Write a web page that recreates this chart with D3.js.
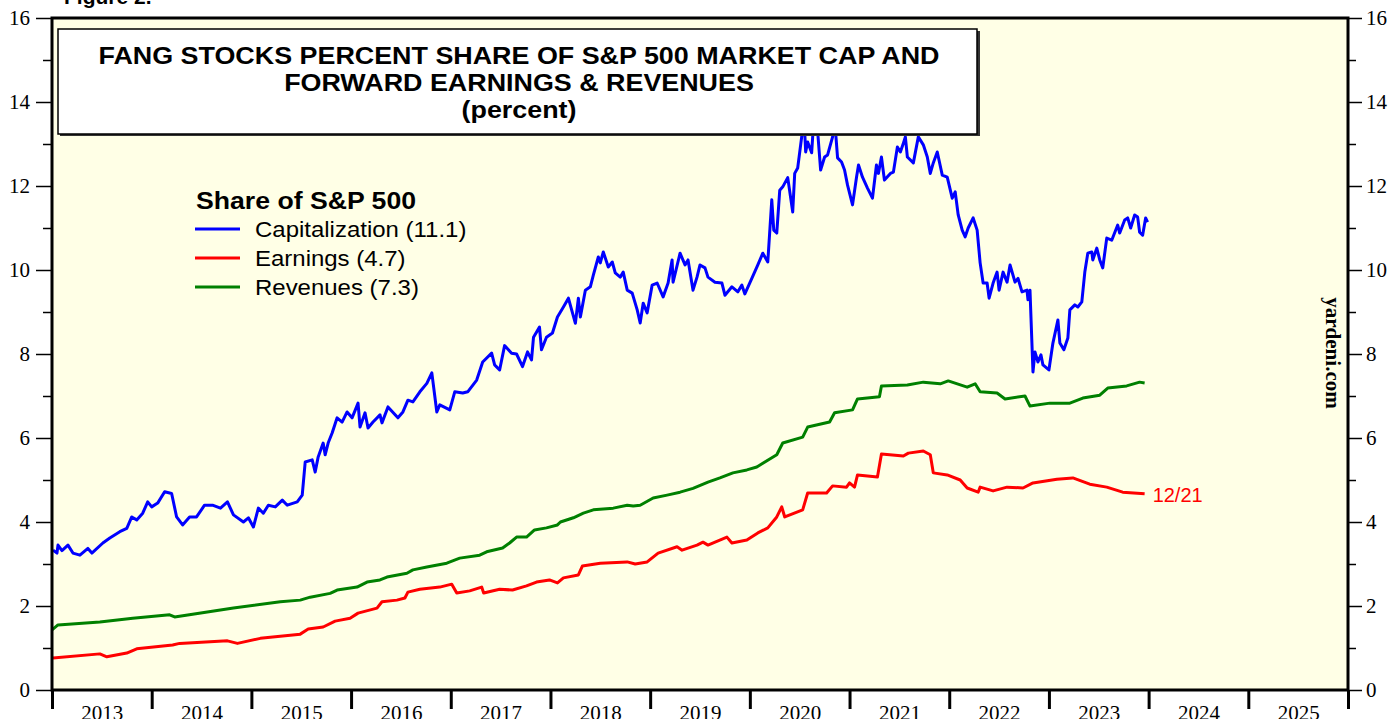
<!DOCTYPE html>
<html>
<head>
<meta charset="utf-8">
<script src="https://cdn.jsdelivr.net/npm/d3@7"></script>
<style>
  body { margin: 0; background: #fff; }
  svg { display: block; }
</style>
</head>
<body>
<div id="chart"></div>
<script>
var svgWidth = 1394;
var svgHeight = 719;

var margin = { top: 18, right: 46, bottom: 29, left: 52 };
var width = svgWidth - margin.left - margin.right;
var height = svgHeight - margin.top - margin.bottom;

// decimal year, share of S&P 500 market cap (percent)
var capYears = [2013.01, 2013.05, 2013.06, 2013.10, 2013.16, 2013.21, 2013.28, 2013.36, 2013.40, 2013.51, 2013.58, 2013.68, 2013.75, 2013.80, 2013.85, 2013.91, 2013.96,
  2014.00, 2014.06, 2014.13, 2014.20, 2014.25, 2014.31, 2014.38, 2014.45, 2014.53, 2014.61, 2014.69, 2014.76, 2014.82, 2014.92, 2014.97,
  2015.02, 2015.07, 2015.12, 2015.17, 2015.24, 2015.31, 2015.36, 2015.46, 2015.51, 2015.54, 2015.61, 2015.64, 2015.67, 2015.72, 2015.74, 2015.77, 2015.81, 2015.86, 2015.91, 2015.96,
  2016.01, 2016.07, 2016.09, 2016.14, 2016.17, 2016.22, 2016.29, 2016.31, 2016.37, 2016.47, 2016.52, 2016.57, 2016.62, 2016.69, 2016.76, 2016.81, 2016.86, 2016.89, 2016.99,
  2017.04, 2017.12, 2017.17, 2017.26, 2017.32, 2017.41, 2017.44, 2017.49, 2017.54, 2017.61, 2017.66, 2017.72, 2017.77, 2017.81, 2017.83, 2017.89, 2017.91, 2017.96,
  2018.02, 2018.07, 2018.13, 2018.18, 2018.25, 2018.28, 2018.30, 2018.35, 2018.40, 2018.43, 2018.48, 2018.50, 2018.53, 2018.58, 2018.62, 2018.65, 2018.70, 2018.73, 2018.77, 2018.82, 2018.87, 2018.90, 2018.93, 2018.97,
  2019.02, 2019.07, 2019.13, 2019.18, 2019.22, 2019.23, 2019.30, 2019.35, 2019.38, 2019.43, 2019.47, 2019.50, 2019.55, 2019.58, 2019.65, 2019.72, 2019.75, 2019.82, 2019.88, 2019.92, 2019.95,
  2020.02, 2020.08, 2020.13, 2020.18, 2020.22, 2020.24, 2020.27, 2020.30, 2020.33, 2020.38, 2020.43, 2020.45, 2020.48, 2020.52, 2020.54, 2020.56, 2020.58, 2020.62, 2020.65, 2020.68, 2020.71, 2020.75, 2020.78, 2020.83, 2020.85, 2020.88, 2020.92, 2020.95, 2020.98,
  2021.03, 2021.07, 2021.09, 2021.13, 2021.18, 2021.23, 2021.27, 2021.29, 2021.32, 2021.35, 2021.41, 2021.44, 2021.48, 2021.51, 2021.54, 2021.56, 2021.58, 2021.64, 2021.69, 2021.74, 2021.78, 2021.81, 2021.84, 2021.88, 2021.93, 2021.98,
  2022.03, 2022.06, 2022.09, 2022.13, 2022.16, 2022.19, 2022.24, 2022.28, 2022.31, 2022.34, 2022.38, 2022.40, 2022.44, 2022.48, 2022.50, 2022.54, 2022.58, 2022.61, 2022.66, 2022.69, 2022.73, 2022.78, 2022.79, 2022.81, 2022.84, 2022.86, 2022.89, 2022.92, 2022.94,
  2023.00, 2023.04, 2023.09, 2023.11, 2023.15, 2023.19, 2023.21, 2023.26, 2023.29, 2023.33, 2023.36, 2023.39, 2023.43, 2023.44, 2023.48, 2023.51, 2023.54, 2023.58, 2023.63, 2023.69, 2023.71, 2023.76, 2023.79, 2023.82, 2023.86, 2023.89, 2023.91, 2023.94, 2023.97, 2023.99];
var capValues = [3.33, 3.26, 3.45, 3.32, 3.45, 3.26, 3.21, 3.37, 3.26, 3.50, 3.62, 3.77, 3.85, 4.12, 4.05, 4.21, 4.48,
  4.36, 4.45, 4.72, 4.68, 4.12, 3.93, 4.12, 4.12, 4.40, 4.40, 4.33, 4.48, 4.17, 4.00, 4.10,
  3.88, 4.33, 4.21, 4.40, 4.36, 4.52, 4.40, 4.48, 4.64, 5.43, 5.48, 5.19, 5.55, 5.88, 5.60, 5.88, 6.12, 6.48, 6.38, 6.62,
  6.48, 6.83, 6.26, 6.60, 6.24, 6.38, 6.55, 6.36, 6.74, 6.48, 6.62, 6.90, 6.86, 7.10, 7.30, 7.55, 6.62, 6.79, 6.67,
  7.10, 7.07, 7.10, 7.38, 7.81, 8.02, 7.74, 7.62, 8.20, 8.02, 8.00, 7.70, 8.05, 7.86, 8.40, 8.64, 8.10, 8.40,
  8.50, 8.88, 9.12, 9.33, 8.73, 9.33, 8.88, 9.52, 9.60, 9.88, 10.31, 10.17, 10.43, 10.07, 10.19, 9.93, 9.83, 9.95, 9.52, 9.45, 9.05, 8.74, 9.21, 8.98,
  9.64, 9.69, 9.36, 9.69, 10.24, 9.71, 10.40, 10.12, 10.24, 9.52, 9.83, 10.12, 10.05, 9.83, 9.71, 9.69, 9.40, 9.60, 9.48, 9.64, 9.43,
  9.80, 10.12, 10.40, 10.19, 11.67, 10.95, 10.88, 11.90, 11.98, 12.20, 11.38, 12.30, 12.43, 13.17, 13.80, 12.81, 13.05, 12.79, 13.90, 13.30, 12.38, 12.69, 12.74, 13.17, 13.60, 12.67, 12.57, 12.38, 12.02,
  11.55, 12.21, 12.50, 12.21, 11.95, 11.71, 12.50, 12.30, 12.69, 12.14, 12.30, 12.33, 12.93, 12.81, 13.02, 13.17, 12.69, 12.55, 13.17, 12.98, 12.69, 12.30, 12.55, 12.81, 12.26, 12.21,
  11.71, 11.86, 11.31, 10.95, 10.79, 11.00, 11.24, 10.95, 10.17, 9.69, 9.69, 9.33, 9.69, 9.95, 9.52, 9.95, 9.71, 10.12, 9.71, 9.80, 9.48, 9.52, 9.29, 9.52, 7.57, 8.05, 7.81, 7.98, 7.74,
  7.62, 8.26, 8.81, 8.26, 8.10, 8.38, 9.05, 9.17, 9.12, 9.24, 9.95, 10.40, 10.43, 10.24, 10.52, 10.24, 10.05, 10.76, 10.71, 11.07, 10.88, 11.19, 11.24, 11.00, 11.31, 11.26, 10.90, 10.83, 11.24, 11.14];

// share of S&P 500 forward earnings (percent)
var earnYears = [2013.01, 2013.48, 2013.55, 2013.75, 2013.85, 2014.21, 2014.28, 2014.76, 2014.86, 2015.09, 2015.49, 2015.57, 2015.72, 2015.84, 2015.99,
  2016.07, 2016.26, 2016.31, 2016.46, 2016.54, 2016.57, 2016.69, 2016.89, 2017.01, 2017.06, 2017.19, 2017.31, 2017.33, 2017.49, 2017.62, 2017.76, 2017.86, 2017.99,
  2018.07, 2018.13, 2018.28, 2018.32, 2018.50, 2018.77, 2018.85, 2018.97, 2019.08, 2019.27, 2019.32, 2019.47, 2019.53, 2019.58, 2019.77, 2019.82, 2019.97,
  2020.08, 2020.18, 2020.27, 2020.32, 2020.35, 2020.53, 2020.58, 2020.77, 2020.83, 2020.97, 2021.00, 2021.05, 2021.08, 2021.28, 2021.32, 2021.54, 2021.59, 2021.74, 2021.81, 2021.84, 2021.98,
  2022.11, 2022.18, 2022.29, 2022.31, 2022.44, 2022.58, 2022.74, 2022.84, 2023.08, 2023.24, 2023.41, 2023.58, 2023.74, 2023.96];
var earnValues = [0.76, 0.86, 0.79, 0.88, 0.98, 1.07, 1.11, 1.17, 1.11, 1.23, 1.33, 1.45, 1.50, 1.64, 1.71,
  1.83, 1.95, 2.10, 2.14, 2.19, 2.33, 2.40, 2.45, 2.52, 2.31, 2.36, 2.45, 2.31, 2.40, 2.38, 2.48, 2.57, 2.62,
  2.55, 2.67, 2.74, 2.95, 3.02, 3.05, 3.00, 3.05, 3.26, 3.41, 3.33, 3.45, 3.52, 3.45, 3.64, 3.50, 3.57,
  3.74, 3.86, 4.12, 4.36, 4.12, 4.29, 4.69, 4.69, 4.86, 4.83, 4.93, 4.83, 5.12, 5.07, 5.62, 5.57, 5.64, 5.69, 5.60, 5.17, 5.12,
  5.00, 4.81, 4.71, 4.83, 4.74, 4.83, 4.81, 4.93, 5.02, 5.05, 4.90, 4.83, 4.71, 4.67];

// share of S&P 500 forward revenues (percent)
var revYears = [2013.00, 2013.06, 2013.48, 2013.81, 2014.18, 2014.23, 2014.82, 2015.29, 2015.49, 2015.59, 2015.79, 2015.86,
  2016.06, 2016.16, 2016.29, 2016.36, 2016.56, 2016.62, 2016.76, 2016.96, 2017.09, 2017.29, 2017.36, 2017.52, 2017.59, 2017.66, 2017.76, 2017.84, 2017.96,
  2018.07, 2018.10, 2018.23, 2018.33, 2018.43, 2018.63, 2018.77, 2018.83, 2018.90, 2019.03, 2019.17, 2019.30, 2019.43, 2019.58, 2019.70, 2019.83, 2019.97,
  2020.07, 2020.27, 2020.33, 2020.53, 2020.58, 2020.80, 2020.85, 2021.03, 2021.08, 2021.30, 2021.32, 2021.58, 2021.74, 2021.91, 2021.99,
  2022.18, 2022.26, 2022.31, 2022.48, 2022.56, 2022.76, 2022.81, 2023.01, 2023.21, 2023.34, 2023.51, 2023.59, 2023.78, 2023.91, 2023.96];
var revValues = [1.43, 1.55, 1.62, 1.71, 1.79, 1.74, 1.95, 2.10, 2.14, 2.21, 2.30, 2.38,
  2.45, 2.57, 2.62, 2.69, 2.78, 2.86, 2.93, 3.02, 3.14, 3.21, 3.29, 3.38, 3.50, 3.64, 3.64, 3.81, 3.86,
  3.93, 4.00, 4.10, 4.21, 4.29, 4.33, 4.40, 4.38, 4.40, 4.57, 4.64, 4.71, 4.80, 4.95, 5.05, 5.17, 5.24,
  5.31, 5.60, 5.88, 6.02, 6.26, 6.38, 6.60, 6.67, 6.93, 6.98, 7.24, 7.26, 7.33, 7.29, 7.36,
  7.21, 7.29, 7.10, 7.07, 6.93, 7.00, 6.76, 6.83, 6.83, 6.95, 7.02, 7.19, 7.24, 7.33, 7.31];

var yearLabels = ["2013", "2014", "2015", "2016", "2017", "2018", "2019", "2020", "2021", "2022", "2023", "2024", "2025"];
var legendLabels = ["Capitalization (11.1)", "Earnings (4.7)", "Revenues (7.3)"];
var seriesColors = ["#0000ff", "#ff0000", "#008000"];

var svg = d3.select("#chart")
  .append("svg")
  .attr("width", svgWidth)
  .attr("height", svgHeight);

svg.append("rect")
  .attr("width", svgWidth)
  .attr("height", svgHeight)
  .attr("fill", "#ffffff");

// "Figure 2." label, mostly cut off at the top
svg.append("text")
  .attr("x", 64)
  .attr("y", 4)
  .attr("font-family", "Liberation Sans, Arial, sans-serif")
  .attr("font-weight", "bold")
  .attr("font-size", "21px")
  .text("Figure 2.");

var chartGroup = svg.append("g")
  .attr("transform", `translate(${margin.left}, ${margin.top})`);

var xScale = d3.scaleLinear().domain([2013, 2026]).range([0, width]);
var yScale = d3.scaleLinear().domain([0, 16]).range([height, 0]);

// plot background
chartGroup.append("rect")
  .attr("width", width)
  .attr("height", height)
  .attr("fill", "#ffffe6");

var serifFont = "Liberation Serif, Times New Roman, serif";
var sansFont = "Liberation Sans, Arial, sans-serif";

// y axes: long ticks on even numbers, short on odd
function styleAxis(g) {
  g.select(".domain").remove();
  g.selectAll("line").attr("stroke", "#000").attr("stroke-width", 1.5);
  g.selectAll("text").attr("font-family", serifFont).attr("font-size", "21px").attr("fill", "#000");
}

var evenTicks = d3.range(0, 17, 2);
var oddTicks = d3.range(1, 16, 2);

chartGroup.append("g")
  .call(d3.axisLeft(yScale).tickValues(evenTicks).tickSize(16).tickPadding(6).tickFormat(d3.format("d")))
  .call(styleAxis);
chartGroup.append("g")
  .call(d3.axisLeft(yScale).tickValues(oddTicks).tickSize(9).tickFormat(""))
  .call(styleAxis);
chartGroup.append("g")
  .attr("transform", `translate(${width}, 0)`)
  .call(d3.axisRight(yScale).tickValues(evenTicks).tickSize(14).tickPadding(4).tickFormat(d3.format("d")))
  .call(styleAxis);
chartGroup.append("g")
  .attr("transform", `translate(${width}, 0)`)
  .call(d3.axisRight(yScale).tickValues(oddTicks).tickSize(8).tickFormat(""))
  .call(styleAxis);

// x axis: year boundaries as ticks, labels centred in each year
chartGroup.append("g")
  .attr("transform", `translate(0, ${height})`)
  .call(d3.axisBottom(xScale).tickValues(d3.range(2013, 2027)).tickSize(19).tickFormat(""))
  .call(function(g) {
    g.select(".domain").remove();
    g.selectAll("line").attr("stroke", "#000").attr("stroke-width", 3);
  });
chartGroup.append("g")
  .attr("transform", `translate(0, ${height})`)
  .call(d3.axisBottom(xScale).tickValues(yearLabels.map(d => +d + 0.5)).tickSize(0).tickPadding(15)
    .tickFormat((d, i) => yearLabels[i]))
  .call(styleAxis);

// lines
var seriesList = [
  { years: capYears, values: capValues, color: seriesColors[0] },
  { years: earnYears, values: earnValues, color: seriesColors[1] },
  { years: revYears, values: revValues, color: seriesColors[2] }
];

var line = d3.line()
  .x(d => xScale(d[0]))
  .y(d => yScale(d[1]));

chartGroup.append("clipPath")
  .attr("id", "plotClip")
  .append("rect")
  .attr("width", width)
  .attr("height", height);

seriesList.forEach(function(s) {
  chartGroup.append("path")
    .datum(d3.zip(s.years, s.values))
    .attr("clip-path", "url(#plotClip)")
    .attr("fill", "none")
    .attr("stroke", s.color)
    .attr("stroke-width", 3)
    .attr("stroke-linejoin", "round")
    .attr("d", line);
});

// end label for earnings
chartGroup.append("text")
  .attr("x", xScale(earnYears[earnYears.length - 1]) + 8)
  .attr("y", yScale(earnValues[earnValues.length - 1]) + 8)
  .attr("font-family", sansFont)
  .attr("font-size", "20px")
  .attr("fill", "#ff0000")
  .text("12/21");

// plot frame
chartGroup.append("rect")
  .attr("width", width)
  .attr("height", height)
  .attr("fill", "none")
  .attr("stroke", "#000")
  .attr("stroke-width", 3);

// title box (sits on top of the lines)
var titleGroup = svg.append("g");
titleGroup.append("rect")
  .attr("x", 60)
  .attr("y", 31)
  .attr("width", 920)
  .attr("height", 105)
  .attr("fill", "#333");
titleGroup.append("rect")
  .attr("x", 58)
  .attr("y", 29)
  .attr("width", 919)
  .attr("height", 105)
  .attr("fill", "#fff")
  .attr("stroke", "#000")
  .attr("stroke-width", 1.5);

// the original face is a little wider than Arial, so stretch it horizontally
var titleLines = ["FANG STOCKS PERCENT SHARE OF S&P 500 MARKET CAP AND", "FORWARD EARNINGS & REVENUES", "(percent)"];
titleGroup.append("g")
  .attr("transform", "translate(519, 0) scale(1.12, 1)")
  .selectAll(".title")
  .data(titleLines)
  .enter()
  .append("text")
  .attr("x", 0)
  .attr("y", (d, i) => 64 + i * 27)
  .attr("text-anchor", "middle")
  .attr("font-family", sansFont)
  .attr("font-weight", "bold")
  .attr("font-size", "24px")
  .text(d => d);

// legend
var legend = svg.append("g").attr("transform", "translate(195, 0)");
legend.append("text")
  .attr("transform", "translate(1, 209) scale(1.11, 1)")
  .attr("font-family", sansFont)
  .attr("font-weight", "bold")
  .attr("font-size", "24px")
  .text("Share of S&P 500");

var legendItems = legend.selectAll(".item")
  .data(legendLabels)
  .enter()
  .append("g")
  .attr("transform", (d, i) => `translate(0, ${229 + i * 29})`);
legendItems.append("line")
  .attr("x1", 0)
  .attr("x2", 45)
  .attr("stroke", (d, i) => seriesColors[i])
  .attr("stroke-width", 3);
legendItems.append("text")
  .attr("transform", "translate(60, 8) scale(1.09, 1)")
  .attr("font-family", sansFont)
  .attr("font-size", "22px")
  .text(d => d);

// watermark
svg.append("text")
  .attr("transform", "translate(1326, 353) rotate(90)")
  .attr("text-anchor", "middle")
  .attr("font-family", serifFont)
  .attr("font-weight", "bold")
  .attr("font-size", "21px")
  .text("yardeni.com");
</script>
</body>
</html>
